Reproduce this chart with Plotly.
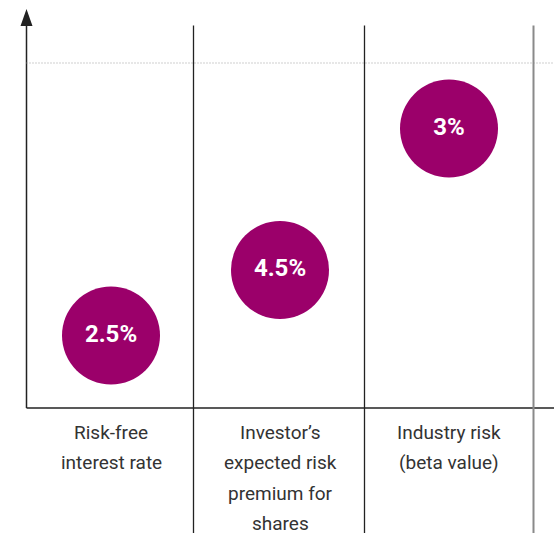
import plotly.graph_objects as go

# ---- data ----
categories = ["Risk-free<br>interest rate",
              "Investor’s<br>expected risk<br>premium for<br>shares",
              "Industry risk<br>(beta value)"]
values = [2.5, 4.5, 3.0]
value_labels = ["2.5%", "4.5%", "3%"]
circle_levels = [2.1, 4.0, 8.1]   # schematic height of each bubble
total_level = 10                  # dotted reference line

# ---- layout geometry (pixel mapping) ----
W, H = 554, 533
PX_PER_X = 169.0
X0_PX = 111.0          # page pixel of category 0
PX_PER_Y = 34.5
Y0_PX = 408.0          # page pixel of y = 0

def xd(px):
    return (px - X0_PX) / PX_PER_X

def yd(px):
    return (Y0_PX - px) / PX_PER_Y

x_idx = list(range(len(categories)))
purple = "#9B006A"

fig = go.Figure()
fig.add_trace(go.Scatter(
    x=x_idx, y=circle_levels, mode="markers+text",
    marker=dict(size=98, color=purple, line=dict(width=0)),
    text=value_labels, textposition="middle center",
    textfont=dict(family="Roboto", size=24, color="white", weight="bold"),
    hoverinfo="skip", showlegend=False, cliponaxis=False,
))

shapes = []
axis_x = xd(26.5)
# horizontal baseline
shapes.append(dict(type="line", x0=axis_x, x1=xd(570), y0=0, y1=0,
                   line=dict(color="#222222", width=1.5), layer="below"))
# y axis
shapes.append(dict(type="line", x0=axis_x, x1=axis_x, y0=0, y1=yd(24),
                   line=dict(color="#222222", width=1.5), layer="below"))
# arrow head
shapes.append(dict(type="path",
                   path=f"M {xd(20.5)} {yd(26)} L {xd(26.5)} {yd(9)} L {xd(32.5)} {yd(26)} Z",
                   fillcolor="#222222", line=dict(width=0)))
# dotted total line
shapes.append(dict(type="line", x0=axis_x, x1=xd(570), y0=total_level, y1=total_level,
                   line=dict(color="#a0a0a0", width=1.2, dash="1px,2px"), layer="below"))
# column dividers
div_px = [193.5, 364.5, 533.5]
div_colors = ["#222222", "#222222", "#8a8a8a"]
for px, c in zip(div_px, div_colors):
    xv = xd(px)
    shapes.append(dict(type="line", x0=xv, x1=xv, y0=yd(25.5), y1=yd(560),
                       line=dict(color=c, width=1.3 if c == "#222222" else 2), layer="below"))

annotations = []
for i, cat in enumerate(categories):
    for j, line in enumerate(cat.split("<br>")):
        annotations.append(dict(x=i, y=yd(432 + 30.5 * j), text=line, showarrow=False,
                                xanchor="center", yanchor="middle",
                                font=dict(family="Roboto", size=19, color="#333333")))

fig.update_layout(
    width=W, height=H, margin=dict(l=0, r=0, t=0, b=0),
    paper_bgcolor="white", plot_bgcolor="white",
    xaxis=dict(range=[xd(0), xd(W)], visible=False, fixedrange=True),
    yaxis=dict(range=[yd(H), yd(0)], visible=False, fixedrange=True),
    shapes=shapes, annotations=annotations,
)
fig.write_html("out.html", config={"displayModeBar": False},
               post_script="document.body.style.margin='0';document.body.style.overflow='hidden';")
